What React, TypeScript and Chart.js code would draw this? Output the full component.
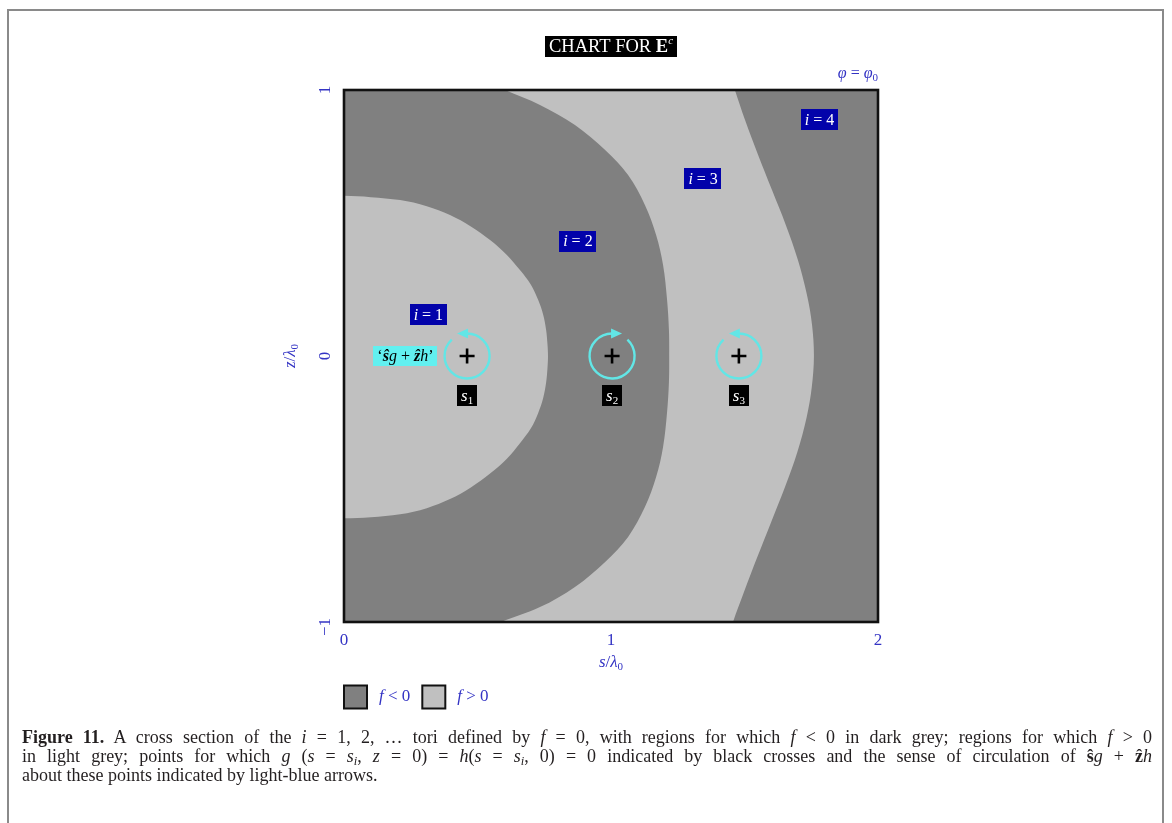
import React, { useEffect, useRef } from 'react';
import { Chart, registerables } from 'chart.js';

Chart.register(...registerables);

// ---------- data ----------
const xTickValues = [0, 1, 2];
const xTickLabels = ['0', '1', '2'];
const yTickValues = [-1, 0, 1];
const yTickLabels = ['\u22121', '0', '1'];

// light-grey region around s1 (f > 0), boundary points (s, z)
const innerS = [-0.05, 0, 0.1, 0.21, 0.31, 0.397, 0.475, 0.547, 0.61, 0.659, 0.7, 0.727, 0.746, 0.757, 0.762, 0.764, 0.762, 0.757, 0.746, 0.727, 0.7, 0.659, 0.61, 0.547, 0.475, 0.397, 0.31, 0.21, 0.1, 0, -0.05];
const innerZ = [0.602, 0.602, 0.597, 0.586, 0.563, 0.53, 0.487, 0.436, 0.38, 0.323, 0.268, 0.211, 0.155, 0.098, 0.045, 0, -0.047, -0.1, -0.158, -0.215, -0.272, -0.328, -0.386, -0.442, -0.494, -0.538, -0.572, -0.595, -0.606, -0.61, -0.61];

// light-grey band (f > 0): left edge top->bottom, then right edge bottom->top
const bandS = [0.46, 0.603, 0.734, 0.865, 0.978, 1.064, 1.127, 1.169, 1.195, 1.21, 1.217, 1.218, 1.217, 1.21, 1.195, 1.169, 1.127, 1.064, 0.978, 0.865, 0.734, 0.588, 0.44,
  1.44, 1.457, 1.498, 1.548, 1.6, 1.652, 1.698, 1.733, 1.752, 1.76, 1.753, 1.734, 1.7, 1.655, 1.603, 1.551, 1.502, 1.464, 1.444];
const bandZ = [1.06, 1.0, 0.944, 0.868, 0.774, 0.68, 0.568, 0.455, 0.342, 0.211, 0.098, 0, -0.098, -0.211, -0.342, -0.455, -0.568, -0.68, -0.774, -0.868, -0.944, -1.0, -1.06,
  -1.06, -1.0, -0.887, -0.756, -0.624, -0.492, -0.361, -0.229, -0.117, 0, 0.117, 0.229, 0.361, 0.492, 0.624, 0.756, 0.887, 1.0, 1.06];

// null points s_i (crosses) and circulation sense (+1 clockwise, -1 anticlockwise)
const nullNames = ['1', '2', '3'];
const nullS = [0.461, 1.004, 1.479];
const nullZ = [0, 0, 0];
const nullSense = [-1, 1, -1];
const nullLabelZ = -0.15;

// torus labels i = 1..4
const torusNames = ['1', '2', '3', '4'];
const torusS = [0.316, 0.876, 1.345, 1.781];
const torusZ = [0.156, 0.432, 0.667, 0.889];

// field label
const fieldLabelS = 0.23;
const fieldLabelZ = 0.0;

const legendLabels = ['<', '>'];

// ---------- drawing helpers ----------
const FAM = '"Liberation Serif", "DejaVu Serif", serif';
const BLUE = '#3434c4';
const DARK = '#808080';
const LIGHT = '#c0c0c0';
const CYAN = '#62e6e6';

type Run = { t: string; s?: 'n' | 'i' | 'b' | 'bi'; size?: number; dy?: number };

function fontOf(r: Run, base: number) {
  const size = r.size ?? base;
  const st = r.s ?? 'n';
  const pre = st === 'i' ? 'italic ' : st === 'b' ? 'bold ' : st === 'bi' ? 'italic bold ' : '';
  return `${pre}${size}px ${FAM}`;
}

function measureRuns(ctx: CanvasRenderingContext2D, runs: Run[], base: number) {
  let w = 0;
  for (const r of runs) {
    ctx.font = fontOf(r, base);
    w += ctx.measureText(r.t).width;
  }
  return w;
}

function drawRuns(ctx: CanvasRenderingContext2D, runs: Run[], x: number, y: number, base: number, color: string, align: 'center' | 'left' | 'right' = 'center') {
  const w = measureRuns(ctx, runs, base);
  let cx = align === 'center' ? x - w / 2 : align === 'right' ? x - w : x;
  ctx.fillStyle = color;
  ctx.textAlign = 'left';
  ctx.textBaseline = 'middle';
  for (const r of runs) {
    ctx.font = fontOf(r, base);
    ctx.fillText(r.t, cx, y + (r.dy ?? 0));
    cx += ctx.measureText(r.t).width;
  }
  return w;
}

function drawBox(ctx: CanvasRenderingContext2D, runs: Run[], cx: number, cy: number, base: number, fg: string, bg: string, padX: number, h: number) {
  const w = measureRuns(ctx, runs, base) + padX * 2;
  ctx.fillStyle = bg;
  ctx.fillRect(Math.round(cx - w / 2), Math.round(cy - h / 2), Math.round(w), h);
  drawRuns(ctx, runs, cx, cy + 1, base, fg);
}

const figurePlugin = {
  id: 'figure',
  beforeDatasetsDraw(chart: any) {
    const { ctx, chartArea: a } = chart;
    ctx.save();
    ctx.fillStyle = DARK;
    ctx.fillRect(a.left, a.top, a.right - a.left, a.bottom - a.top);
    ctx.restore();
  },
  afterDatasetsDraw(chart: any) {
    const { ctx, chartArea: a, scales } = chart;
    const xs = scales.x;
    const ys = scales.y;
    ctx.save();

    // circulation arrows
    for (let k = 0; k < nullS.length; k++) {
      const cx = xs.getPixelForValue(nullS[k]);
      const cy = ys.getPixelForValue(nullZ[k]);
      const r = 22.5;
      ctx.strokeStyle = CYAN;
      ctx.fillStyle = CYAN;
      ctx.lineWidth = 2.4;
      ctx.beginPath();
      if (nullSense[k] < 0) {
        ctx.arc(cx, cy, r, -Math.PI / 2, (227 * Math.PI) / 180, false);
      } else {
        ctx.arc(cx, cy, r, (-47 * Math.PI) / 180, (270 * Math.PI) / 180, false);
      }
      ctx.stroke();
      const d = nullSense[k];
      const ty = cy - r;
      ctx.beginPath();
      ctx.moveTo(cx + d * 10, ty);
      ctx.lineTo(cx - d * 1, ty - 5);
      ctx.lineTo(cx - d * 1, ty + 5);
      ctx.closePath();
      ctx.fill();
    }

    // torus labels
    for (let k = 0; k < torusNames.length; k++) {
      drawBox(ctx, [{ t: 'i', s: 'i' }, { t: ' = ' + torusNames[k] }], xs.getPixelForValue(torusS[k]), ys.getPixelForValue(torusZ[k]), 16, '#ffffff', '#0202aa', 4, 21);
    }

    // null point labels
    for (let k = 0; k < nullNames.length; k++) {
      drawBox(ctx, [{ t: 's', s: 'i' }, { t: nullNames[k], size: 11, dy: 4 }], xs.getPixelForValue(nullS[k]), ys.getPixelForValue(nullLabelZ), 17, '#ffffff', '#000000', 4, 21);
    }

    // field label
    drawBox(ctx, [{ t: '\u2018' }, { t: '\u015d', s: 'bi' }, { t: 'g', s: 'i' }, { t: ' + ' }, { t: '\u1e91', s: 'bi' }, { t: 'h', s: 'i' }, { t: '\u2019' }],
      xs.getPixelForValue(fieldLabelS), ys.getPixelForValue(fieldLabelZ), 16, '#000000', '#62f0f0', 4, 20);

    // frame
    ctx.strokeStyle = '#111111';
    ctx.lineWidth = 2.6;
    ctx.strokeRect(a.left, a.top, a.right - a.left, a.bottom - a.top);

    // tick labels
    for (let k = 0; k < xTickValues.length; k++) {
      drawRuns(ctx, [{ t: xTickLabels[k] }], xs.getPixelForValue(xTickValues[k]), a.bottom + 19, 17, BLUE);
    }
    for (let k = 0; k < yTickValues.length; k++) {
      let py = ys.getPixelForValue(yTickValues[k]);
      if (k === 0) py += 5;
      ctx.save();
      ctx.translate(a.left - 18, py);
      ctx.rotate(-Math.PI / 2);
      drawRuns(ctx, [{ t: yTickLabels[k] }], 0, 0, 17, BLUE);
      ctx.restore();
    }

    // axis titles
    const midX = (a.left + a.right) / 2;
    const midY = (a.top + a.bottom) / 2;
    drawRuns(ctx, [{ t: 's', s: 'i' }, { t: '/' }, { t: '\u03bb', s: 'i' }, { t: '0', size: 11, dy: 4 }], midX, a.bottom + 41, 17, BLUE);
    ctx.save();
    ctx.translate(a.left - 53, midY);
    ctx.rotate(-Math.PI / 2);
    drawRuns(ctx, [{ t: 'z', s: 'i' }, { t: '/' }, { t: '\u03bb', s: 'i' }, { t: '0', size: 11, dy: 4 }], 0, 0, 17, BLUE);
    ctx.restore();

    // title
    drawBox(ctx, [{ t: 'CHART FOR ' }, { t: 'E', s: 'b' }, { t: 'c', s: 'i', size: 11, dy: -6 }], midX, a.top - 44, 18.5, '#ffffff', '#000000', 4, 21);

    // phi label
    drawRuns(ctx, [{ t: '\u03c6', s: 'i' }, { t: ' = ' }, { t: '\u03c6', s: 'i' }, { t: '0', size: 11, dy: 4 }], a.right, a.top - 16, 16, BLUE, 'right');

    // legend
    const ly = a.bottom + 75;
    const fills = [DARK, LIGHT];
    let lx = a.left;
    for (let k = 0; k < legendLabels.length; k++) {
      ctx.fillStyle = fills[k];
      ctx.fillRect(lx, ly - 11.5, 23, 23);
      ctx.strokeStyle = '#111111';
      ctx.lineWidth = 2;
      ctx.strokeRect(lx, ly - 11.5, 23, 23);
      const w = drawRuns(ctx, [{ t: 'f', s: 'i' }, { t: ' ' + legendLabels[k] + ' 0' }], lx + 35, ly, 17, BLUE, 'left');
      lx += 35 + w + 12;
    }
    ctx.restore();
  },
};

export default function App() {
  const ref = useRef<HTMLCanvasElement>(null);

  useEffect(() => {
    const canvas = ref.current;
    if (!canvas) return;
    const chart = new Chart(canvas, {
      type: 'line',
      data: {
        datasets: [
          {
            label: 'null points',
            data: nullS.map((s, k) => ({ x: s, y: nullZ[k] })),
            order: 0,
            showLine: false,
            fill: false,
            pointStyle: 'cross',
            pointRadius: 7.5,
            pointBorderWidth: 2.6,
            pointBorderColor: '#000000',
            pointBackgroundColor: '#000000',
          },
          {
            label: 'f > 0 (i = 1)',
            data: innerS.map((s, k) => ({ x: s, y: innerZ[k] })),
            order: 2,
            fill: 'shape',
            backgroundColor: LIGHT,
            borderColor: 'rgba(0,0,0,0)',
            borderWidth: 0,
            pointRadius: 0,
            tension: 0.35,
          },
          {
            label: 'f > 0 (i = 3)',
            data: bandS.map((s, k) => ({ x: s, y: bandZ[k] })),
            order: 2,
            fill: 'shape',
            backgroundColor: LIGHT,
            borderColor: 'rgba(0,0,0,0)',
            borderWidth: 0,
            pointRadius: 0,
            tension: 0.35,
          },
        ],
      } as any,
      options: {
        responsive: false,
        maintainAspectRatio: false,
        animation: false,
        devicePixelRatio: 1,
        events: [],
        layout: { padding: { left: 344, right: 294, top: 90, bottom: 201 } },
        plugins: { legend: { display: false }, tooltip: { enabled: false } },
        scales: {
          x: { type: 'linear', min: 0, max: 2, display: false },
          y: { type: 'linear', min: -1, max: 1, display: false },
        },
      } as any,
      plugins: [figurePlugin],
    });
    return () => chart.destroy();
  }, []);

  const sub: React.CSSProperties = { fontSize: '0.7em', position: 'relative', top: '0.25em', lineHeight: 0 };
  const line: React.CSSProperties = { whiteSpace: 'nowrap', textAlign: 'justify', textAlignLast: 'justify' as any, height: 19 };

  return (
    <div style={{ position: 'absolute', left: 0, top: 0, width: 1172, height: 823, background: '#ffffff', overflow: 'hidden' }}>
      <canvas ref={ref} width={1172} height={823} style={{ position: 'absolute', left: 0, top: 0, width: 1172, height: 823 }} />
      <div style={{ position: 'absolute', left: 7, top: 9, width: 1157, height: 840, boxSizing: 'border-box', border: '2px solid #8a8a8a', borderBottom: 'none' }} />
      <div style={{ position: 'absolute', left: 22, top: 728, width: 1130, font: `18px ${FAM}`, lineHeight: '19px', color: '#231f20' }}>
        <div style={line}>
          <b>Figure 11.</b> A cross section of the <i>i</i> = 1, 2, … tori defined by <i>f</i> = 0, with regions for which <i>f</i> &lt; 0 in dark grey; regions for which <i>f</i> &gt; 0
        </div>
        <div style={line}>
          in light grey; points for which <i>g</i> (<i>s</i> = <i>s</i><span style={sub}><i>i</i></span>, <i>z</i> = 0) = <i>h</i>(<i>s</i> = <i>s</i><span style={sub}><i>i</i></span>, 0) = 0 indicated by black crosses and the sense of circulation of <b>ŝ</b><i>g</i> + <b>ẑ</b><i>h</i>
        </div>
        <div style={{ whiteSpace: 'nowrap', height: 19 }}>about these points indicated by light-blue arrows.</div>
      </div>
    </div>
  );
}
